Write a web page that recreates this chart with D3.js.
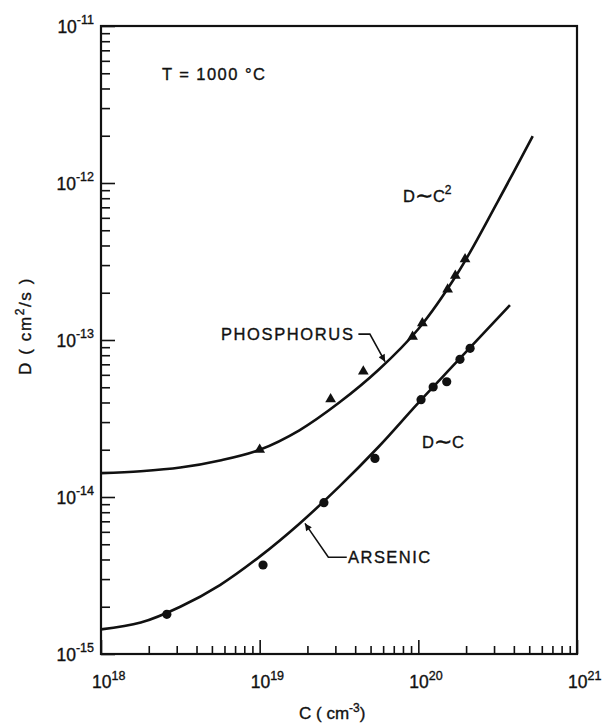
<!DOCTYPE html>
<html>
<head>
<meta charset="utf-8">
<script src="https://cdn.jsdelivr.net/npm/d3@7"></script>
<style>
  body { margin: 0; background: #fff; }
  text { font-family: "Liberation Sans", Arial, sans-serif; fill: #111; stroke: #111; stroke-width: 0.35; }
</style>
</head>
<body>
<svg id="chart" width="603" height="723"></svg>
<script>
// ---- data ----
const xTickExps = [18, 19, 20, 21];
const yTickExps = [-11, -12, -13, -14, -15];

// measured points
const phosC = [1.0e19, 2.8e19, 4.5e19, 9.2e19, 1.06e20, 1.53e20, 1.71e20, 1.97e20];
const phosD = [2.0e-14, 4.2e-14, 6.3e-14, 1.05e-13, 1.28e-13, 2.1e-13, 2.57e-13, 3.27e-13];
const arsC  = [2.6e18, 1.05e19, 2.54e19, 5.33e19, 1.04e20, 1.24e20, 1.51e20, 1.83e20, 2.12e20];
const arsD  = [1.79e-15, 3.69e-15, 9.2e-15, 1.76e-14, 4.17e-14, 5.02e-14, 5.42e-14, 7.53e-14, 8.85e-14];

// fitted curves
const phosFitC = [1e18, 1.78e18, 3.16e18, 5.62e18, 1e19, 1.78e19, 3.16e19, 5.62e19, 1e20, 1.78e20, 3.16e20, 5.26e20];
const phosFitD = [1.42e-14, 1.46e-14, 1.54e-14, 1.71e-14, 2.0e-14, 2.66e-14, 3.98e-14, 6.46e-14, 1.175e-13, 2.69e-13, 7.59e-13, 1.99e-12];
const arsFitC  = [1e18, 1.78e18, 3.16e18, 5.62e18, 1e19, 1.78e19, 3.16e19, 5.62e19, 1e20, 1.78e20, 3.78e20];
const arsFitD  = [1.435e-15, 1.585e-15, 2.0e-15, 2.75e-15, 4.17e-15, 6.76e-15, 1.16e-14, 2.09e-14, 3.98e-14, 7.41e-14, 1.67e-13];

// annotation leader lines (data coordinates)
const phosArrowC = [4.19e19, 4.95e19, 6.17e19];
const phosArrowD = [1.09e-13, 1.09e-13, 7.28e-14];
const arsArrowC  = [3.54e19, 2.71e19, 1.93e19];
const arsArrowD  = [4.13e-15, 4.13e-15, 6.79e-15];

// text labels
const tempLabel = "T = 1000  °C";
const phosLabel = "PHOSPHORUS";
const arsLabel = "ARSENIC";
const xTitle = ["C ( cm", "-3", ")"];
const yTitle = ["D ( cm", "2", "/s )"];

// ---- drawing ----
const svg = d3.select("#chart");
const mLeft = 101, mRight = 577, mTop = 26, mBottom = 654;

const x = d3.scaleLog().domain([1e18, 1e21]).range([mLeft, mRight]);
const y = d3.scaleLog().domain([1e-15, 1e-11]).range([mBottom, mTop]);

const isMajor = (v, exps) => exps.some(e => Math.abs(Math.log10(v) - e) < 1e-9);
const xMinor = d3.axisBottom(x).tickValues(x.ticks().filter(v => !isMajor(v, xTickExps))).tickSize(-8).tickFormat("");
const xMajor = d3.axisBottom(x).tickValues(xTickExps.map(e => Math.pow(10, e))).tickSize(-14).tickFormat("");
const yMinor = d3.axisLeft(y).tickValues(y.ticks().filter(v => !isMajor(v, yTickExps))).tickSize(-9).tickFormat("");
const yMajor = d3.axisLeft(y).tickValues(yTickExps.map(e => Math.pow(10, e))).tickSize(-14).tickFormat("");

function styleAxis(g) {
  g.select(".domain").remove();
  g.selectAll("line").attr("stroke", "#111").attr("stroke-width", 1.6);
}
svg.append("g").attr("transform", `translate(0,${mBottom})`).call(xMinor).call(styleAxis);
svg.append("g").attr("transform", `translate(0,${mBottom})`).call(xMajor).call(styleAxis);
svg.append("g").attr("transform", `translate(${mLeft},0)`).call(yMinor).call(styleAxis);
svg.append("g").attr("transform", `translate(${mLeft},0)`).call(yMajor).call(styleAxis);

// frame
svg.append("rect")
  .attr("x", mLeft).attr("y", mTop)
  .attr("width", mRight - mLeft).attr("height", mBottom - mTop)
  .attr("fill", "none").attr("stroke", "#111").attr("stroke-width", 2.2);

// x tick labels
xTickExps.forEach(e => {
  const t = svg.append("text")
    .attr("x", x(Math.pow(10, e)) - 9)
    .attr("y", mBottom + 34)
    .attr("font-size", 17.5);
  t.append("tspan").text("10");
  t.append("tspan").attr("dy", -8).attr("font-size", 12.5).text(e);
});

// y tick labels
yTickExps.forEach(e => {
  const t = svg.append("text")
    .attr("x", mLeft - 7)
    .attr("y", y(Math.pow(10, e)) + 7)
    .attr("text-anchor", "end")
    .attr("font-size", 17.5);
  t.append("tspan").text("10");
  t.append("tspan").attr("dy", -9).attr("font-size", 12.5).text("-" + Math.abs(e));
});

// axis titles
const xt = svg.append("text")
  .attr("x", 299).attr("y", 719)
  .attr("font-size", 17);
xt.append("tspan").text(xTitle[0]);
xt.append("tspan").attr("dy", -7).attr("font-size", 12).text(xTitle[1]);
xt.append("tspan").attr("dy", 7).text(xTitle[2]);

const yt = svg.append("text")
  .attr("transform", `translate(31,${(275 + 377) / 2}) rotate(-90)`)
  .attr("text-anchor", "middle")
  .attr("font-size", 17)
  .attr("letter-spacing", 1.6);
yt.append("tspan").text(yTitle[0]);
yt.append("tspan").attr("dy", -7).attr("font-size", 12).text(yTitle[1]);
yt.append("tspan").attr("dy", 7).text(yTitle[2]);

// curves
const line = d3.line()
  .x(d => x(d[0])).y(d => y(d[1]))
  .curve(d3.curveCatmullRom.alpha(0.5));

svg.append("path")
  .datum(d3.zip(phosFitC, phosFitD))
  .attr("d", line)
  .attr("fill", "none").attr("stroke", "#111").attr("stroke-width", 2.6);
svg.append("path")
  .datum(d3.zip(arsFitC, arsFitD))
  .attr("d", line)
  .attr("fill", "none").attr("stroke", "#111").attr("stroke-width", 2.6);

// markers
svg.append("g").selectAll("path")
  .data(d3.zip(phosC, phosD))
  .join("path")
  .attr("transform", d => `translate(${x(d[0])},${y(d[1])})`)
  .attr("d", d3.symbol(d3.symbolTriangle, 50))
  .attr("fill", "#111");

svg.append("g").selectAll("circle")
  .data(d3.zip(arsC, arsD))
  .join("circle")
  .attr("cx", d => x(d[0])).attr("cy", d => y(d[1]))
  .attr("r", 4.6)
  .attr("fill", "#111");

// arrow marker
svg.append("defs").append("marker")
  .attr("id", "arrow")
  .attr("viewBox", "0 0 10 10")
  .attr("refX", 10).attr("refY", 5)
  .attr("markerWidth", 9).attr("markerHeight", 7)
  .attr("markerUnits", "userSpaceOnUse")
  .attr("orient", "auto")
  .append("path").attr("d", "M0,0 L10,5 L0,10 Z").attr("fill", "#111");

const plain = d3.line().x(d => x(d[0])).y(d => y(d[1]));
svg.append("path")
  .datum(d3.zip(phosArrowC, phosArrowD))
  .attr("d", plain)
  .attr("fill", "none").attr("stroke", "#111").attr("stroke-width", 1.6)
  .attr("marker-end", "url(#arrow)");
svg.append("path")
  .datum(d3.zip(arsArrowC, arsArrowD))
  .attr("d", plain)
  .attr("fill", "none").attr("stroke", "#111").attr("stroke-width", 1.6)
  .attr("marker-end", "url(#arrow)");

// labels
svg.append("text")
  .attr("x", x(2.42e18)).attr("y", y(4.53e-12))
  .attr("font-size", 16.5)
  .attr("textLength", 103).attr("lengthAdjust", "spacing")
  .text(tempLabel);

svg.append("text")
  .attr("x", x(3.87e19) - 132).attr("y", y(1e-13))
  .attr("font-size", 16.5)
  .attr("textLength", 132).attr("lengthAdjust", "spacing")
  .text(phosLabel);

svg.append("text")
  .attr("x", x(3.61e19)).attr("y", y(3.8e-15))
  .attr("font-size", 16.5)
  .attr("textLength", 82).attr("lengthAdjust", "spacing")
  .text(arsLabel);

const dc2 = svg.append("text")
  .attr("x", x(8.0e19)).attr("y", y(7.57e-13))
  .attr("font-size", 16.5);
dc2.append("tspan").text("D");
dc2.append("tspan").attr("font-size", 22).attr("dy", 1).text("∼");
dc2.append("tspan").attr("dy", -1).text("C");
dc2.append("tspan").attr("dy", -8).attr("font-size", 12).text("2");

const dc = svg.append("text")
  .attr("x", x(1.054e20)).attr("y", y(2.05e-14))
  .attr("font-size", 16.5);
dc.append("tspan").text("D");
dc.append("tspan").attr("font-size", 22).attr("dy", 1).text("∼");
dc.append("tspan").attr("dy", -1).text("C");
</script>
</body>
</html>
